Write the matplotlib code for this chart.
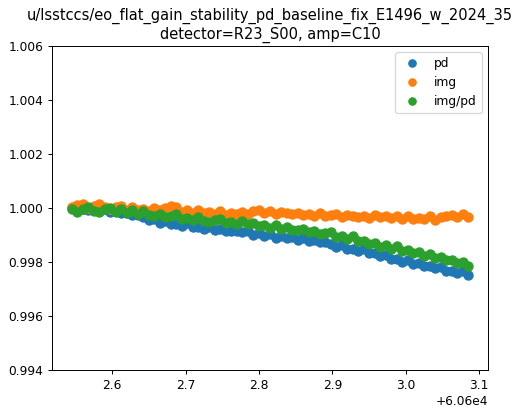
import numpy as np
import matplotlib
matplotlib.use("Agg")
import matplotlib.pyplot as plt

# -----------------------------------
# DATA (MJD - 60600, relative signals)
# -----------------------------------

mjd_frac = [
    2.5450, 2.5525, 2.5600, 2.5675, 2.5750, 2.5825, 2.5900, 2.5975, 2.6050, 2.6125,
    2.6200, 2.6275, 2.6350, 2.6425, 2.6500, 2.6575, 2.6650, 2.6725, 2.6800, 2.6875,
    2.6950, 2.7025, 2.7100, 2.7175, 2.7250, 2.7325, 2.7400, 2.7475, 2.7550, 2.7625,
    2.7700, 2.7775, 2.7850, 2.7925, 2.8000, 2.8075, 2.8150, 2.8225, 2.8300, 2.8375,
    2.8450, 2.8525, 2.8600, 2.8675, 2.8750, 2.8825, 2.8900, 2.8975, 2.9050, 2.9125,
    2.9200, 2.9275, 2.9350, 2.9425, 2.9500, 2.9575, 2.9650, 2.9725, 2.9800, 2.9875,
    2.9950, 3.0025, 3.0100, 3.0175, 3.0250, 3.0325, 3.0400, 3.0475, 3.0550, 3.0625,
    3.0700, 3.0775, 3.0850,
]

pd_vals = [
    1.00000, 1.00006, 0.99997, 0.99993, 1.00001, 0.99994, 0.99996, 0.99985, 0.99992, 0.99981,
    0.99981, 0.99973, 0.99973, 0.99966, 0.99955, 0.99960, 0.99945, 0.99952, 0.99940, 0.99941,
    0.99933, 0.99943, 0.99930, 0.99929, 0.99922, 0.99930, 0.99918, 0.99922, 0.99914, 0.99914,
    0.99915, 0.99910, 0.99914, 0.99900, 0.99908, 0.99896, 0.99903, 0.99889, 0.99896, 0.99888,
    0.99892, 0.99881, 0.99888, 0.99877, 0.99881, 0.99873, 0.99874, 0.99866, 0.99855, 0.99862,
    0.99848, 0.99848, 0.99840, 0.99847, 0.99832, 0.99834, 0.99822, 0.99826, 0.99811, 0.99810,
    0.99800, 0.99808, 0.99792, 0.99797, 0.99785, 0.99785, 0.99777, 0.99781, 0.99766, 0.99766,
    0.99759, 0.99766, 0.99753,
]

img_vals = [
    1.00004, 1.00010, 1.00013, 1.00001, 1.00009, 1.00014, 1.00002, 0.99997, 1.00004, 1.00006,
    0.99993, 1.00003, 0.99994, 0.99997, 0.99989, 1.00000, 0.99991, 0.99999, 1.00008, 1.00002,
    0.99986, 0.99993, 0.99982, 0.99991, 0.99983, 0.99986, 0.99979, 0.99988, 0.99975, 0.99981,
    0.99976, 0.99985, 0.99979, 0.99988, 0.99991, 0.99983, 0.99988, 0.99979, 0.99985, 0.99983,
    0.99979, 0.99982, 0.99975, 0.99977, 0.99971, 0.99980, 0.99971, 0.99973, 0.99977, 0.99967,
    0.99973, 0.99970, 0.99967, 0.99971, 0.99964, 0.99973, 0.99967, 0.99970, 0.99963, 0.99972,
    0.99960, 0.99969, 0.99961, 0.99963, 0.99960, 0.99970, 0.99956, 0.99966, 0.99970, 0.99973,
    0.99967, 0.99977, 0.99965,
]

ratio_vals = [
    0.99998, 0.99986, 0.99995, 1.00003, 0.99990, 0.99986, 0.99996, 0.99999, 0.99986, 0.99995,
    0.99982, 0.99992, 0.99978, 0.99988, 0.99975, 0.99971, 0.99978, 0.99966, 0.99970, 0.99977,
    0.99960, 0.99962, 0.99955, 0.99966, 0.99953, 0.99948, 0.99955, 0.99959, 0.99945, 0.99947,
    0.99940, 0.99951, 0.99941, 0.99944, 0.99933, 0.99936, 0.99926, 0.99936, 0.99923, 0.99929,
    0.99919, 0.99918, 0.99922, 0.99912, 0.99914, 0.99904, 0.99907, 0.99910, 0.99893, 0.99896,
    0.99886, 0.99896, 0.99879, 0.99877, 0.99867, 0.99870, 0.99856, 0.99862, 0.99849, 0.99859,
    0.99841, 0.99844, 0.99834, 0.99836, 0.99823, 0.99829, 0.99816, 0.99818, 0.99808, 0.99807,
    0.99797, 0.99799, 0.99786,
]

mjd = 60600 + np.array(mjd_frac)

# -----------------------------------
# FIGURE
# -----------------------------------

DPI = 88
fig = plt.figure(figsize=(513 / DPI, 407 / DPI), dpi=DPI)
ax = fig.add_axes([52 / 513, 37 / 407, 436 / 513, 324 / 407])

ms = 7.5
ax.plot(mjd, pd_vals, 'o', ms=ms, label='pd')
ax.plot(mjd, img_vals, 'o', ms=ms, label='img')
ax.plot(mjd, ratio_vals, 'o', ms=ms, label='img/pd')

ax.set_ylim(0.994, 1.006)
ax.set_yticks(np.arange(0.994, 1.0061, 0.002))
ax.legend(loc='upper right', markerscale=6 / ms)
ax.set_title("u/lsstccs/eo_flat_gain_stability_pd_baseline_fix_E1496_w_2024_35\n"
             "detector=R23_S00, amp=C10")

fig.savefig("out.png", dpi=DPI)
